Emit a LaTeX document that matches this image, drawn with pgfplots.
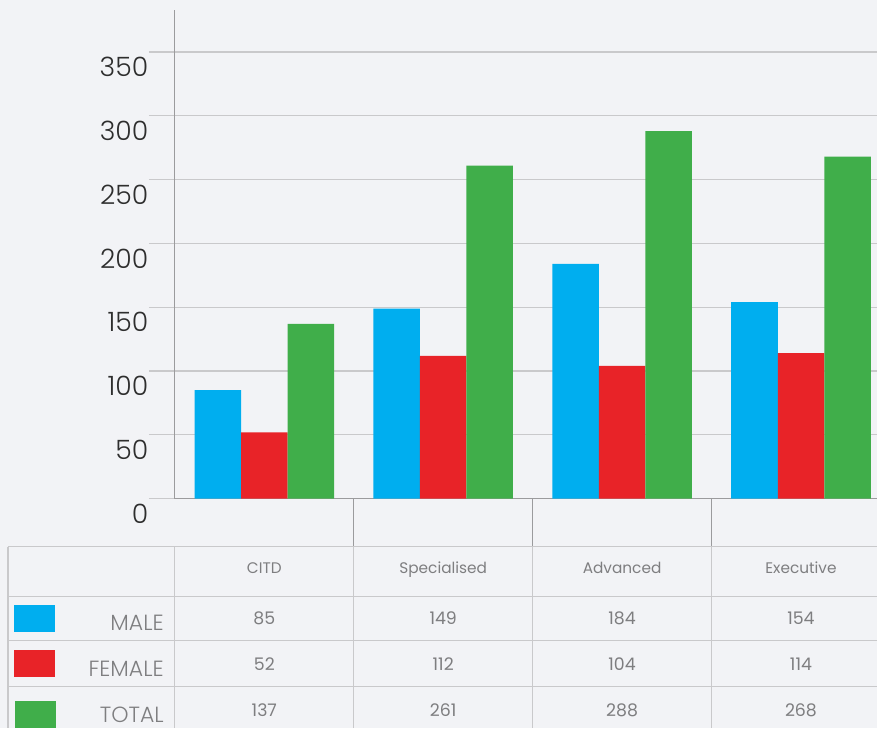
\documentclass[border=0pt]{standalone}
\usepackage{pgfplots}
\pgfplotsset{compat=1.18}
\usepackage{fontspec}
\IfFontExistsTF{Poppins Light}{\setmainfont{Poppins Light}}{\setmainfont{Poppins}}
\newfontfamily\tabfont{Poppins}
\definecolor{bg}{HTML}{F2F3F6}
\definecolor{male}{HTML}{00AEEF}
\definecolor{female}{HTML}{E82328}
\definecolor{total}{HTML}{40AE4A}
\definecolor{gridc}{HTML}{C9C9CB}
\definecolor{axc}{HTML}{9B9B9D}
\definecolor{tickc}{HTML}{2E2E2E}
\definecolor{tabc}{HTML}{7E7E80}

\begin{document}
\begin{tikzpicture}
% background, in pixel units (y downwards), origin at the axis corner
\begin{scope}[x=0.75pt,y=-0.75pt,shift={(-175,-499)}]
  \fill[bg] (0,0) rectangle (878,728);
\end{scope}

\begin{axis}[
  at={(0,0)}, anchor=south west,
  scale only axis,
  width=527.25pt, height=366.75pt,
  xmin=-0.5, xmax=3.427, ymin=0, ymax=383,
  axis lines=left,
  axis line style={draw=axc, line width=0.75pt, -},
  xtick=\empty,
  ytick={0,50,...,350},
  ymajorgrids,
  grid style={draw=gridc, line width=0.9pt},
  tick align=outside,
  major tick length=19.5pt,
  ytick style={draw=gridc, line width=0.9pt},
  yticklabel style={font=\fontsize{20}{20}\selectfont, text=tickc, yshift=-11.25pt, xshift=3pt},
  /pgf/number format/assume math mode=true,
  clip=false,
]
  \addplot[ybar, bar width=0.26, bar shift=-0.26, fill=male, draw=none]
    coordinates {(0,85) (1,149) (2,184) (3,154)};
  \addplot[ybar, bar width=0.26, bar shift=0, fill=female, draw=none]
    coordinates {(0,52) (1,112) (2,104) (3,114)};
  \addplot[ybar, bar width=0.26, bar shift=0.26, fill=total, draw=none]
    coordinates {(0,137) (1,261) (2,288) (3,268)};
\end{axis}

% data table under the chart
\begin{scope}[x=0.75pt,y=-0.75pt,shift={(-175,-499)}]
  \draw[axc, line width=0.75pt] (354,499)--(354,547) (533,499)--(533,547) (712,499)--(712,547);
  \draw[gridc, line width=0.9pt]
    (8,547)--(878,547) (8,597)--(878,597) (8,641)--(878,641) (8,687)--(878,687)
    (8,547)--(8,728) (175,547)--(175,728) (354,547)--(354,728)
    (533,547)--(533,728) (712,547)--(712,728);
  \begin{scope}[text=tabc]
    \foreach \x/\t in {264.5/CITD, 443.5/Specialised, 622.5/Advanced, 801.5/Executive}
      \node[anchor=base, font=\tabfont\fontsize{11.5}{11.5}\selectfont] at (\x,574.3) {\t};
    \foreach \x/\a/\b/\c in {264.5/85/52/137, 443.5/149/112/261, 622.5/184/104/288, 801.5/154/114/268} {
      \node[anchor=base, font=\tabfont\fontsize{13}{13}\selectfont] at (\x,625.3) {\a};
      \node[anchor=base, font=\tabfont\fontsize{13}{13}\selectfont] at (\x,670.7) {\b};
      \node[anchor=base, font=\tabfont\fontsize{13}{13}\selectfont] at (\x,716.7) {\c};
    }
    \node[anchor=base east, inner sep=0pt, font=\fontsize{16.5}{16.5}\selectfont] at (164,630.7) {MALE};
    \node[anchor=base east, inner sep=0pt, font=\fontsize{16.5}{16.5}\selectfont] at (164,677) {FEMALE};
    \node[anchor=base east, inner sep=0pt, font=\fontsize{16.5}{16.5}\selectfont] at (164,722.7) {TOTAL};
  \end{scope}
  \fill[male] (14,605) rectangle (55,632);
  \fill[female] (14,650) rectangle (55,677);
  \fill[total] (15,701) rectangle (56,728);
\end{scope}
\end{tikzpicture}
\end{document}
